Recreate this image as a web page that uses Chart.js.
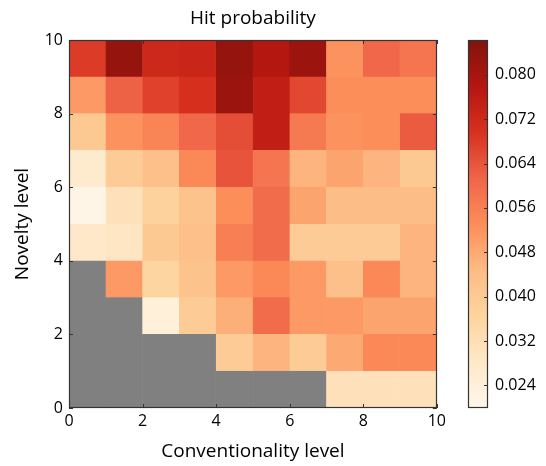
<!DOCTYPE html>
<html>
<head>
<meta charset="utf-8">
<script src="https://cdn.jsdelivr.net/npm/chart.js@4.4.1/dist/chart.umd.min.js"></script>
<style>
  html, body { margin: 0; padding: 0; background: #fff; }
  #wrap { position: relative; width: 546px; height: 466px; }
  #heatBox { position: absolute; left: 0; top: 0; width: 450px; height: 466px; }
  #barBox { position: absolute; left: 440px; top: 0; width: 106px; height: 466px; }
</style>
</head>
<body>
<div id="wrap">
  <div id="heatBox"><canvas id="heatChart"></canvas></div>
  <div id="barBox"><canvas id="colorBar"></canvas></div>
</div>
<script>
// conventionality levels (columns) and novelty levels (rows)
const levels = [0, 1, 2, 3, 4, 5, 6, 7, 8, 9];
const axisTicks = [0, 2, 4, 6, 8, 10];

// hit probability per novelty row, null = no data (grey)
const row0 = [null, null, null, null, null, null, null, 0.031, 0.031, 0.031];
const row1 = [null, null, null, null, 0.039, 0.046, 0.039, 0.048, 0.054, 0.054];
const row2 = [null, null, 0.024, 0.039, 0.047, 0.060, 0.051, 0.051, 0.049, 0.049];
const row3 = [null, 0.051, 0.036, 0.042, 0.051, 0.054, 0.051, 0.043, 0.054, 0.046];
const row4 = [0.028, 0.029, 0.040, 0.043, 0.056, 0.060, 0.039, 0.039, 0.039, 0.046];
const row5 = [0.021, 0.031, 0.037, 0.042, 0.053, 0.060, 0.049, 0.044, 0.044, 0.044];
const row6 = [0.027, 0.039, 0.043, 0.054, 0.064, 0.058, 0.046, 0.049, 0.046, 0.040];
const row7 = [0.040, 0.052, 0.055, 0.061, 0.065, 0.075, 0.057, 0.052, 0.053, 0.063];
const row8 = [0.051, 0.062, 0.067, 0.070, 0.082, 0.075, 0.066, 0.053, 0.053, 0.053];
const row9 = [0.068, 0.083, 0.072, 0.073, 0.083, 0.078, 0.082, 0.052, 0.061, 0.058];
const rows = [row0, row1, row2, row3, row4, row5, row6, row7, row8, row9];

// colour bar range and ticks
const vMin = 0.0199;
const vMax = 0.0863;
const colorBarTicks = [0.024, 0.032, 0.040, 0.048, 0.056, 0.064, 0.072, 0.080];

// OrRd-like colour map (dark end a bit browner, as in the picture)
const orRd = [
    [255, 247, 236], [254, 232, 200], [253, 212, 158], [253, 187, 132],
    [252, 141, 89], [239, 101, 72], [215, 48, 31], [180, 22, 16], [128, 20, 12]
];
const missingColor = '#808080';
const fontFamily = '"Open Sans", "Noto Sans", sans-serif';
const textColor = '#000';

function cmap(t) {
    t = Math.max(0, Math.min(1, t));
    const p = t * (orRd.length - 1);
    const i = Math.min(Math.floor(p), orRd.length - 2);
    const f = p - i;
    const a = orRd[i], b = orRd[i + 1];
    return 'rgb(' + [0, 1, 2].map(k => Math.round(a[k] + (b[k] - a[k]) * f)).join(',') + ')';
}

function colorFor(v) {
    if (v === null || v === undefined) return missingColor;
    return cmap((v - vMin) / (vMax - vMin));
}

// frame + inward tick marks like matplotlib
const framePlugin = {
    id: 'frame',
    afterDraw(chart, args, opts) {
        const { ctx, chartArea: a } = chart;
        ctx.save();
        ctx.strokeStyle = '#333';
        ctx.lineWidth = 1;
        (opts.scales || []).forEach(id => {
            const s = chart.scales[id];
            s.ticks.forEach(t => {
                const p = Math.round(s.getPixelForValue(t.value)) + 0.5;
                ctx.beginPath();
                if (s.isHorizontal()) {
                    ctx.moveTo(p, a.bottom); ctx.lineTo(p, a.bottom - 4);
                    ctx.moveTo(p, a.top); ctx.lineTo(p, a.top + 4);
                } else {
                    if (opts.both) {
                        ctx.moveTo(a.left, p); ctx.lineTo(a.left + 4, p);
                    }
                    ctx.moveTo(a.right, p); ctx.lineTo(a.right - 4, p);
                }
                ctx.stroke();
            });
        });
        ctx.lineWidth = 1.2;
        ctx.strokeRect(Math.round(a.left) + 0.5, Math.round(a.top) + 0.5,
            Math.round(a.right - a.left) - 1, Math.round(a.bottom - a.top) - 1);
        ctx.restore();
    }
};

// heatmap from floating bars
const heatDatasets = rows.map((vals, j) => ({
    data: levels.map((x, i) => ({ x: x + 0.5, y: [j, j + 1], v: vals[i] })),
    backgroundColor: ctx => colorFor(ctx.raw ? ctx.raw.v : null),
    borderColor: ctx => colorFor(ctx.raw ? ctx.raw.v : null),
    borderWidth: 0.6,
    borderSkipped: false,
    grouped: false,
    barPercentage: 1,
    categoryPercentage: 1
}));

new Chart(document.getElementById('heatChart'), {
    type: 'bar',
    data: { datasets: heatDatasets },
    options: {
        responsive: true,
        maintainAspectRatio: false,
        animation: false,
        layout: { padding: { left: 0, right: 9, top: 0, bottom: 0 } },
        plugins: {
            legend: { display: false },
            tooltip: { enabled: false },
            title: {
                display: true,
                text: 'Hit probability',
                fullSize: false,
                color: textColor,
                font: { family: fontFamily, size: 19, weight: 'normal' },
                padding: { top: 7, bottom: 10.2 }
            },
            frame: { scales: ['x', 'y'], both: true }
        },
        scales: {
            x: {
                type: 'linear',
                min: 0,
                max: 10,
                offset: false,
                grid: { display: false, drawTicks: false },
                border: { display: false },
                afterBuildTicks: s => { s.ticks = axisTicks.map(v => ({ value: v })); },
                afterFit: s => { s.height = 58; },
                ticks: { color: textColor, padding: 4, maxRotation: 0, font: { family: fontFamily, size: 16 } },
                title: {
                    display: true,
                    text: 'Conventionality level',
                    color: textColor,
                    font: { family: fontFamily, size: 19 },
                    padding: { top: 0, bottom: 2.6 }
                }
            },
            y: {
                type: 'linear',
                min: 0,
                max: 10,
                grid: { display: false, drawTicks: false },
                border: { display: false },
                afterBuildTicks: s => { s.ticks = axisTicks.map(v => ({ value: v })); },
                afterFit: s => { s.width = 69; },
                ticks: { color: textColor, padding: 6, font: { family: fontFamily, size: 16 } },
                title: {
                    display: true,
                    text: 'Novelty level',
                    color: textColor,
                    font: { family: fontFamily, size: 19 },
                    padding: { top: 11.6, bottom: 0 }
                }
            }
        }
    },
    plugins: [framePlugin]
});

// colour bar: one floating bar with a gradient fill
new Chart(document.getElementById('colorBar'), {
    type: 'bar',
    data: {
        labels: [''],
        datasets: [{
            data: [[vMin, vMax]],
            backgroundColor: ctx => {
                const a = ctx.chart.chartArea;
                if (!a) return null;
                const g = ctx.chart.ctx.createLinearGradient(0, a.bottom, 0, a.top);
                for (let k = 0; k <= 16; k++) g.addColorStop(k / 16, cmap(k / 16));
                return g;
            },
            borderWidth: 0,
            barPercentage: 1,
            categoryPercentage: 1
        }]
    },
    options: {
        responsive: true,
        maintainAspectRatio: false,
        animation: false,
        layout: { padding: { left: 28, right: 0, top: 40, bottom: 58 } },
        plugins: {
            legend: { display: false },
            tooltip: { enabled: false },
            frame: { scales: ['y'], both: false }
        },
        scales: {
            x: { display: false },
            y: {
                position: 'right',
                min: vMin,
                max: vMax,
                grid: { display: false, drawTicks: false },
                border: { display: false },
                afterBuildTicks: s => { s.ticks = colorBarTicks.map(v => ({ value: v })); },
                afterFit: s => { s.width = 58; },
                ticks: {
                    color: textColor,
                    padding: 7,
                    font: { family: fontFamily, size: 16 },
                    callback: v => v.toFixed(3)
                }
            }
        }
    },
    plugins: [framePlugin]
});
</script>
</body>
</html>
